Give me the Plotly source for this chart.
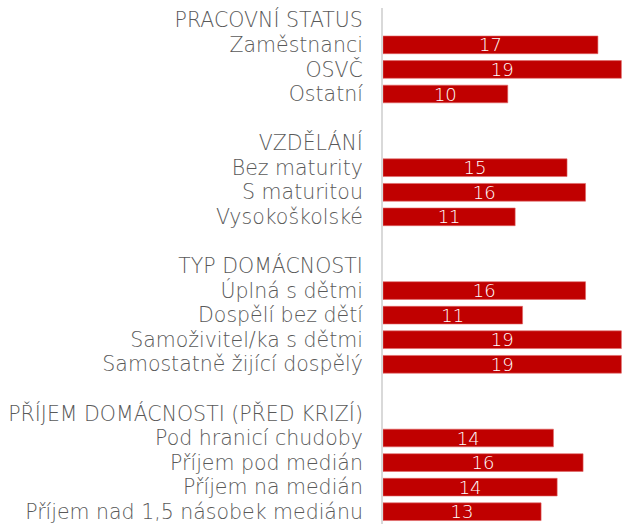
import plotly.graph_objects as go

rows = [
    "PRACOVNÍ STATUS", "Zaměstnanci", "OSVČ", "Ostatní", "",
    "VZDĚLÁNÍ", "Bez maturity", "S maturitou", "Vysokoškolské", "",
    "TYP DOMÁCNOSTI", "Úplná s dětmi", "Dospělí bez dětí", "Samoživitel/ka s dětmi", "Samostatně žijící dospělý", "",
    "PŘÍJEM DOMÁCNOSTI (PŘED KRIZÍ)", "Pod hranicí chudoby", "Příjem pod medián", "Příjem na medián", "Příjem nad 1,5 násobek mediánu",
]
values = [
    None, 17.4, 19.3, 10.1, None,
    None, 14.9, 16.4, 10.7, None,
    None, 16.4, 11.3, 19.3, 19.3, None,
    None, 13.8, 16.2, 14.1, 12.8,
]
labels = ["" if v is None else str(int(round(v))) for v in values]
ypos = list(range(len(rows)))

fig = go.Figure(go.Bar(
    x=values, y=ypos, orientation="h",
    marker=dict(color="#C00000", line=dict(color="#E06666", width=0.6)),
    width=0.72,
    text=labels, textposition="inside", insidetextanchor="middle",
    textangle=0, constraintext="none",
    textfont=dict(family="DejaVu Sans", size=18, color="white", weight=200),
    hoverinfo="skip",
))

fig.update_layout(
    width=622, height=524,
    margin=dict(l=383, r=0, t=8, b=0, autoexpand=False),
    plot_bgcolor="white", paper_bgcolor="white",
    showlegend=False,
    font=dict(family="DejaVu Sans", color="#595959"),
)
fig.update_xaxes(range=[0, 19.35], visible=False, fixedrange=True)
fig.update_yaxes(
    tickmode="array", tickvals=ypos, ticktext=rows,
    range=[len(rows) - 0.5, -0.5],
    showgrid=False, zeroline=False,
    showline=True, linecolor="#D9D9D9", linewidth=2,
    ticks="", ticklabelstandoff=14, automargin=False,
    tickfont=dict(family="DejaVu Sans", size=20.5, color="#595959", weight=200),
    fixedrange=True,
)

fig.write_html(
    "out.html",
    config={"displayModeBar": False},
    post_script="document.body.style.margin='0';document.body.style.overflow='hidden';",
)
